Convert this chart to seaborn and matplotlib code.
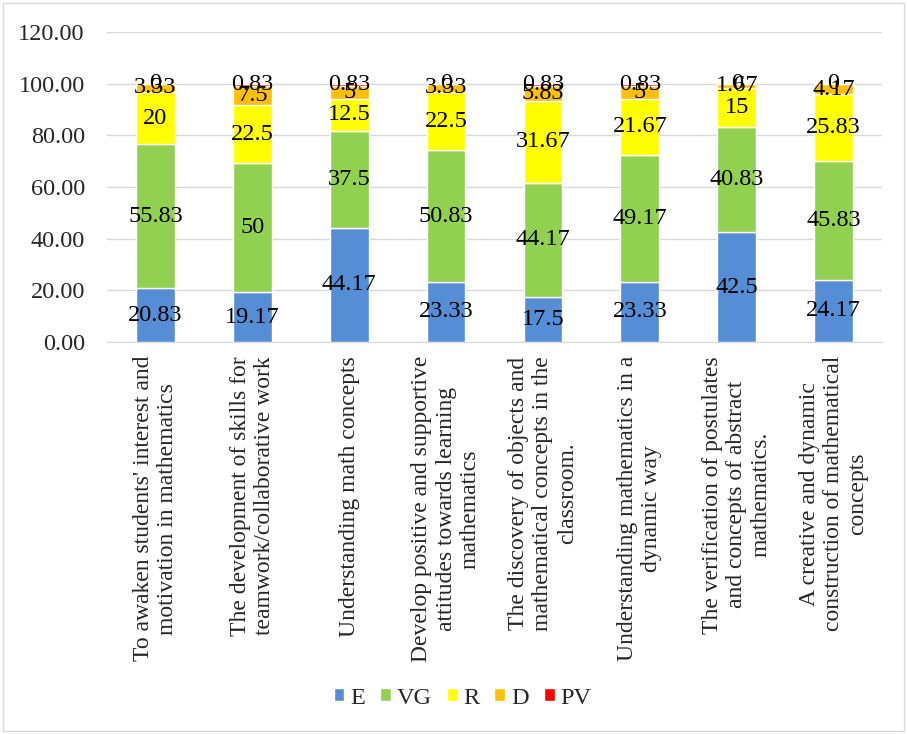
import matplotlib
matplotlib.use("Agg")
import matplotlib.pyplot as plt
import seaborn as sns
import pandas as pd
import numpy as np
from matplotlib.patches import Patch, Rectangle

categories = [
    "To awaken students' interest and\nmotivation in mathematics",
    "The development of skills for\nteamwork/collaborative work",
    "Understanding math concepts",
    "Develop positive and supportive\nattitudes towards learning\nmathematics",
    "The discovery of objects and\nmathematical concepts in the\nclassroom.",
    "Understanding mathematics in a\ndynamic way",
    "The verification of postulates\nand concepts of abstract\nmathematics.",
    "A creative and dynamic\nconstruction of mathematical\nconcepts",
]
E = [20.83, 19.17, 44.17, 23.33, 17.5, 23.33, 42.5, 24.17]
VG = [55.83, 50, 37.5, 50.83, 44.17, 49.17, 40.83, 45.83]
R = [20, 22.5, 12.5, 22.5, 31.67, 21.67, 15, 25.83]
D = [3.33, 7.5, 5, 3.33, 5.83, 5, 1.67, 4.17]
PV = [0, 0.83, 0.83, 0, 0.83, 0.83, 0, 0]
series_names = ["E", "VG", "R", "D", "PV"]
series_values = [E, VG, R, D, PV]
colors = ["#558ED5", "#92D050", "#FFFF00", "#FFC000", "#FF0000"]

sns.set_style("white")
plt.rcParams["font.family"] = ["Liberation Serif", "DejaVu Serif"]

fig = plt.figure(figsize=(9.07, 7.34), dpi=100)
ax = fig.add_axes([107 / 907, 1 - 342 / 734, 775 / 907, 310 / 734])

bottom = np.zeros(len(categories))
for name, vals, col in zip(series_names, series_values, colors):
    df = pd.DataFrame({"cat": categories, "val": vals})
    sns.barplot(data=df, x="cat", y="val", color=col, width=0.4,
                bottom=bottom, ax=ax, label=name, saturation=1, errorbar=None)
    cont = ax.containers[-1]
    ax.bar_label(cont, labels=[f"{v:g}" for v in vals], label_type="center",
                 fontsize=17.5, color="black")
    bottom = bottom + np.array(vals)

ax.set_ylim(0, 120)
ax.set_yticks(np.arange(0, 121, 20))
ax.set_yticklabels([f"{v:.2f}" for v in np.arange(0, 121, 20)], fontsize=17.5)
ax.set_xlim(-0.5, 7.5)
ax.set_xlabel("")
ax.set_ylabel("")
ax.yaxis.grid(True, color="#D9D9D9", linewidth=1)
ax.set_axisbelow(True)
for s in ["top", "right", "left"]:
    ax.spines[s].set_visible(False)
ax.spines["bottom"].set_color("#D9D9D9")
ax.tick_params(axis="both", length=0)
ax.tick_params(axis="y", pad=16)
ax.tick_params(axis="x", pad=10)
ax.set_xticks(range(len(categories)))
ax.set_xticklabels(categories, rotation=90, fontsize=17, ha="center", va="top",
                   multialignment="center")

handles = [Patch(facecolor=c, label=n) for n, c in zip(series_names, colors)]
ax.legend(handles=handles, loc="center", bbox_to_anchor=(0.51, 1 - 698 / 734),
          bbox_transform=fig.transFigure, ncol=5, frameon=False, fontsize=17.5,
          handlelength=0.45, handleheight=0.45, handletextpad=0.25, columnspacing=0.6)

fig.patches.append(Rectangle((3 / 907, 3 / 734), 901 / 907, 728 / 734,
                             transform=fig.transFigure, fill=False,
                             edgecolor="#D9D9D9", linewidth=1))
fig.savefig("out.png", dpi=100)
